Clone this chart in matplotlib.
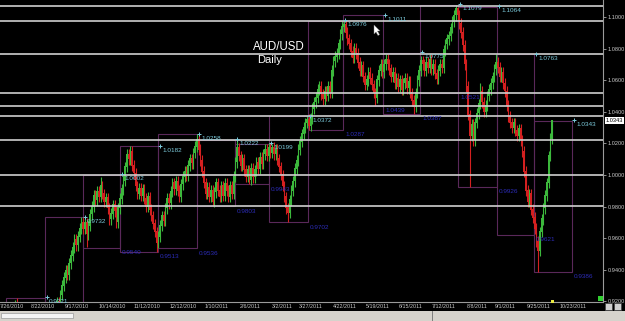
import numpy as np
import matplotlib

matplotlib.use("Agg")
import matplotlib.pyplot as plt
from matplotlib.patches import Rectangle, Polygon

plt.rcParams["font.family"] = ["Liberation Sans", "DejaVu Sans"]

# Daily closes, one per bar (open of a bar = previous close)
closes = [
    0.8790, 0.8840, 0.8815, 0.8880, 0.8945, 0.9010, 0.9060, 0.9130, 0.9175, 0.9120,
    0.9160, 0.9085, 0.9030, 0.9055, 0.8990, 0.8940, 0.8975, 0.8920, 0.8960, 0.8905,
    0.8870, 0.8915, 0.8860, 0.8820, 0.8875, 0.8850, 0.8905, 0.8960, 0.8935, 0.9010,
    0.9080, 0.9150, 0.9195, 0.9170, 0.9240, 0.9300, 0.9350, 0.9395, 0.9370, 0.9440,
    0.9490, 0.9540, 0.9590, 0.9555, 0.9610, 0.9660, 0.9700, 0.9660, 0.9695, 0.9625,
    0.9680, 0.9750, 0.9800, 0.9870, 0.9840, 0.9895, 0.9860, 0.9930, 0.9880, 0.9830,
    0.9855, 0.9790, 0.9720, 0.9755, 0.9810, 0.9770, 0.9700, 0.9790, 0.9850, 0.9910,
    0.9965, 1.0050, 1.0130, 1.0100, 1.0150, 1.0060, 1.0010, 0.9930, 0.9880, 0.9915,
    0.9870, 0.9910, 0.9850, 0.9800, 0.9860, 0.9780, 0.9740, 0.9690, 0.9640, 0.9570,
    0.9610, 0.9680, 0.9740, 0.9710, 0.9790, 0.9850, 0.9820, 0.9895, 0.9950, 0.9910,
    0.9960, 0.9900, 0.9860, 0.9940, 0.9990, 1.0020, 0.9995, 1.0060, 1.0100, 1.0075,
    1.0140, 1.0180, 1.0225, 1.0160, 1.0090, 1.0020, 0.9950, 0.9880, 0.9920, 0.9860,
    0.9900, 0.9830, 0.9890, 0.9950, 0.9900, 0.9860, 0.9930, 0.9870, 0.9945, 0.9900,
    0.9860, 0.9930, 0.9880, 0.9990, 1.0080, 1.0170, 1.0120, 1.0060, 1.0100, 1.0030,
    0.9990, 1.0030, 0.9970, 1.0040, 0.9985, 1.0030, 1.0080, 1.0040, 1.0110, 1.0070,
    1.0130, 1.0160, 1.0120, 1.0170, 1.0140, 1.0175, 1.0130, 1.0160, 1.0100, 1.0050,
    1.0000, 0.9930, 0.9860, 0.9790, 0.9760, 0.9840, 0.9900, 0.9960, 1.0040, 1.0090,
    1.0160, 1.0210, 1.0260, 1.0300, 1.0330, 1.0350, 1.0310, 1.0360, 1.0420, 1.0460,
    1.0490, 1.0540, 1.0560, 1.0510, 1.0480, 1.0530, 1.0500, 1.0560, 1.0520, 1.0660,
    1.0720, 1.0750, 1.0770, 1.0830, 1.0890, 1.0940, 1.0950, 1.0900, 1.0860, 1.0830,
    1.0780, 1.0740, 1.0800, 1.0770, 1.0710, 1.0660, 1.0690, 1.0620, 1.0570, 1.0600,
    1.0650, 1.0610, 1.0570, 1.0520, 1.0490, 1.0600, 1.0660, 1.0700, 1.0650, 1.0700,
    1.0730, 1.0700, 1.0670, 1.0620, 1.0650, 1.0580, 1.0610, 1.0560, 1.0600, 1.0540,
    1.0580, 1.0610, 1.0550, 1.0590, 1.0520, 1.0470, 1.0430, 1.0520, 1.0600, 1.0660,
    1.0720, 1.0700, 1.0660, 1.0710, 1.0680, 1.0730, 1.0670, 1.0700, 1.0640, 1.0610,
    1.0660, 1.0700, 1.0680, 1.0790, 1.0830, 1.0860, 1.0880, 1.0930, 1.0970, 1.1010,
    1.1050, 1.1010, 1.0960, 1.0900, 1.0820, 1.0700, 1.0560, 1.0380, 1.0250, 1.0320,
    1.0220, 1.0330, 1.0390, 1.0450, 1.0530, 1.0460, 1.0400, 1.0440, 1.0500, 1.0540,
    1.0580, 1.0620, 1.0670, 1.0710, 1.0680, 1.0620, 1.0650, 1.0580, 1.0530, 1.0440,
    1.0370, 1.0330, 1.0300, 1.0330, 1.0280, 1.0250, 1.0290, 1.0220, 1.0150, 1.0020,
    0.9900, 0.9830, 0.9880, 0.9780, 0.9730, 0.9660, 0.9580, 0.9520, 0.9640, 0.9720,
    0.9790, 0.9870, 0.9950, 1.0120, 1.0230, 1.0343,
]
first_open = 0.8760
wick_pad = 0.0034

# notable wick extremes (bar index: price)
wick_highs = {9: 0.9221, 46: 0.9732, 57: 0.9990, 74: 1.0182, 112: 1.0258,
              135: 1.0222, 155: 1.0199, 175: 1.0372, 196: 1.0976, 260: 1.1079,
              261: 1.1064, 274: 1.0585, 283: 1.0763, 315: 1.0348}
wick_lows = {49: 0.9545, 89: 0.9513, 121: 0.9803, 142: 0.9943, 164: 0.9702,
             176: 1.0287, 214: 1.0439, 236: 1.0387, 268: 0.9926, 307: 0.9386}

# monthly range boxes: edges (bar index), highs, lows
box_edges = [2.9, 25.1, 46.9, 68.0, 89.7, 112.0, 133.7, 153.1, 175.4, 195.4,
             218.3, 239.4, 261.1, 283.4, 304.6, 326.3]
box_high = [0.9221, 0.9732, 1.0002, 1.0182, 1.0258, 1.0222, 1.0199, 1.0372,
            1.0976, 1.1011, 1.0775, 1.1079, 1.1064, 1.0763, 1.0343]
box_low = [0.8771, 0.8958, 0.9540, 0.9513, 0.9536, 0.9803, 0.9943, 0.9702,
           1.0287, 1.0439, 1.0387, 1.0521, 0.9926, 0.9621, 0.9386]
box_high_labels = ["0.9221", "0.9732", "1.0002", "1.0182", "1.0258", "1.0222",
                   "1.0199", "1.0372", "1.0976", "1.1011", "1.0775", "1.1079",
                   "1.1064", "1.0763", "1.0343"]
box_low_labels = ["", "", "0.9540", "0.9513", "0.9536", "0.9803", "0.9943",
                  "0.9702", "1.0287", "1.0439", "1.0387", "1.0521", "0.9926",
                  "0.9621", "0.9386"]

# horizontal support / resistance levels
levels = [1.1068, 1.0972, 1.0763, 1.0521, 1.0435, 1.0372, 1.0222, 1.0002, 0.9803]

price_ticks = [0.92, 0.94, 0.96, 0.98, 1.00, 1.02, 1.04, 1.06, 1.08, 1.10]
last_price = 1.0343

date_labels = ["7/26/2010", "8/22/2010", "9/17/2010", "10/14/2010", "11/12/2010",
               "12/12/2010", "1/10/2011", "2/6/2011", "3/2/2011", "3/27/2011",
               "4/22/2011", "5/19/2011", "6/15/2011", "7/12/2011", "8/8/2011",
               "9/1/2011", "9/25/2011", "10/23/2011"]
date_pos = [6.3, 24.0, 43.4, 63.4, 83.4, 104.0, 123.4, 142.3, 160.6, 177.1,
            196.6, 215.4, 234.3, 253.1, 272.0, 288.0, 307.4, 326.9]

GREEN = "#3cb83c"
RED = "#d42020"
PURPLE = "#5a285a"
LINE = "#cfcfcf"
CYAN = "#7ccbdc"
BLUE = "#2c2cb8"
GREY = "#c8c8c8"

W, H = 625, 321
fig = plt.figure(figsize=(W / 100, H / 100), dpi=100, facecolor="black")
ax = fig.add_axes([0, 1 - 302 / H, 603 / W, 302 / H])
ax.set_facecolor("black")

closes = np.array(closes)
opens = np.concatenate([[first_open], closes[:-1]])
idx = np.arange(len(closes))
highs = np.maximum(opens, closes) + wick_pad
lows = np.minimum(opens, closes) - wick_pad
for k, v in wick_highs.items():
    highs[k] = v
for k, v in wick_lows.items():
    lows[k] = v
colors = np.where(closes >= opens, GREEN, RED)

# boxes
for i in range(len(box_high)):
    l, r = box_edges[i], box_edges[i + 1]
    ax.add_patch(Rectangle((l, box_low[i]), r - l, box_high[i] - box_low[i],
                           fill=False, edgecolor=PURPLE, lw=0.8, zorder=1))
    ax.plot(r + 1.3, box_high[i] + 0.0004, marker="+", ms=2.2, mew=0.7,
            color=CYAN, zorder=4)
    ax.annotate(box_high_labels[i], (r, box_high[i]), xytext=(3.0, -2.8),
                textcoords="offset points", va="center", ha="left",
                fontsize=4.6, color=CYAN, zorder=4)
    if box_low_labels[i]:
        ax.annotate(box_low_labels[i], (r, box_low[i]), xytext=(1.5, -3.6),
                    textcoords="offset points", va="center", ha="left",
                    fontsize=4.6, color=BLUE, zorder=4)

# candles
ax.vlines(idx, lows, highs, colors=colors, lw=0.8, zorder=2)
ax.bar(idx, np.abs(closes - opens) + 0.0005, bottom=np.minimum(opens, closes),
       width=0.95, color=colors, lw=0, zorder=2)

for lv in levels:
    ax.axhline(lv, color=LINE, lw=1.2, zorder=3)

ax.set_xlim(-0.57, 344)
ax.set_ylim(0.9196, 1.1108)

for s in ["top", "left"]:
    ax.spines[s].set_visible(False)
for s in ["right", "bottom"]:
    ax.spines[s].set_color("#9a9a9a")
    ax.spines[s].set_linewidth(0.8)

ax.yaxis.tick_right()
ax.set_yticks(price_ticks, [f"{v:.4f}" for v in price_ticks])
ax.tick_params(axis="y", colors=GREY, labelsize=4.1, length=2, width=0.5, pad=1.2)
ax.set_xticks(date_pos, date_labels)
ax.tick_params(axis="x", colors=GREY, labelsize=3.9, length=0, pad=1.6)

ax.annotate(f"{last_price:.4f}", xy=(1, last_price),
            xycoords=("axes fraction", "data"), xytext=(2.0, 0),
            textcoords="offset points", va="center", ha="left",
            fontsize=4.1, color="black", annotation_clip=False,
            bbox=dict(boxstyle="square,pad=0.2", fc="white", ec="none"))

fig.text(253 / W, 1 - 47 / H, "AUD/USD", color="white", fontsize=8.3,
         va="center", ha="left")
fig.text(257 / W, 1 - 60 / H, "Daily", color="white", fontsize=8.0,
         va="center", ha="left")

# screen decorations (scroll bar, buttons, cursor)
ov = fig.add_axes([0, 0, 1, 1], zorder=5)
ov.set_xlim(0, W)
ov.set_ylim(H, 0)
ov.axis("off")
ov.patch.set_alpha(0)
ov.add_patch(Rectangle((0, 311), W, 10, color="#d6d3cc", lw=0))
ov.add_patch(Rectangle((1, 312.5), 72, 5, fc="#f4f4f4", ec="#9a9a9a", lw=0.5))
ov.plot([432, 432], [311, 321], color="#707070", lw=0.6)
ov.add_patch(Rectangle((605, 303), 7, 7, fc="#d0d0d0", ec="#404040", lw=0.5))
ov.add_patch(Rectangle((614, 303), 7, 7, fc="#d0d0d0", ec="#404040", lw=0.5))
ov.add_patch(Rectangle((598, 295.5), 5, 5, color="#30d030", lw=0))
ov.add_patch(Rectangle((551, 300), 3, 3, color="#e8e840", lw=0))
ov.add_patch(Polygon([(374, 25), (374, 34), (376, 32), (378, 35.5), (379.5, 34.5),
                      (377.5, 31), (380, 31)], closed=True, fc="white",
                     ec="#808080", lw=0.3))

fig.savefig("out.png", dpi=100, facecolor="black")
